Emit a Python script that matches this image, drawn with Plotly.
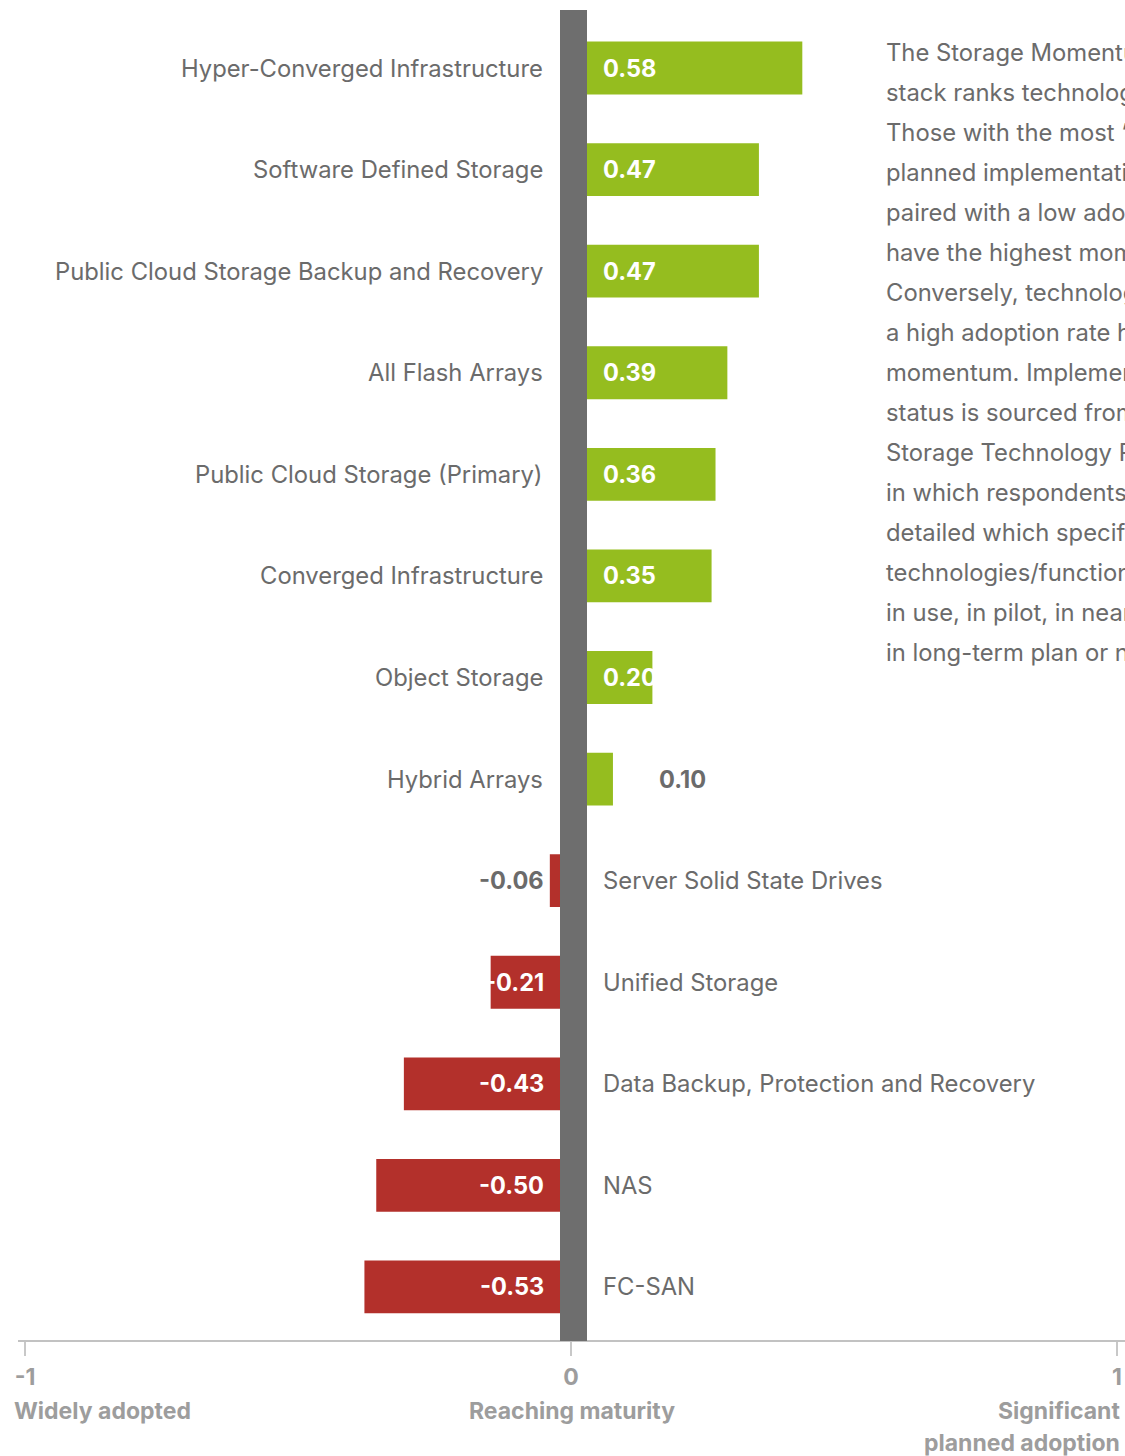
import plotly.graph_objects as go

categories = [
    "Hyper-Converged Infrastructure",
    "Software Defined Storage",
    "Public Cloud Storage Backup and Recovery",
    "All Flash Arrays",
    "Public Cloud Storage (Primary)",
    "Converged Infrastructure",
    "Object Storage",
    "Hybrid Arrays",
    "Server Solid State Drives",
    "Unified Storage",
    "Data Backup, Protection and Recovery",
    "NAS",
    "FC-SAN",
]
values = [0.58, 0.47, 0.47, 0.39, 0.36, 0.35, 0.20, 0.10, -0.06, -0.21, -0.43, -0.50, -0.53]

axis_ticks = [-1, 0, 1]
axis_ticktext = ["-1", "0", "1"]
axis_descriptors = [["Widely adopted"], ["Reaching maturity"], ["Significant", "planned adoption"]]

note_lines = [
    "The Storage Momentum Index",
    "stack ranks technologies by momentum.",
    "Those with the most \u2018in plan\u2019",
    "planned implementations",
    "paired with a low adoption rate",
    "have the highest momentum.",
    "Conversely, technologies with",
    "a high adoption rate have low",
    "momentum. Implementation",
    "status is sourced from the",
    "Storage Technology Profile,",
    "in which respondents",
    "detailed which specific",
    "technologies/functions are",
    "in use, in pilot, in near-term plan,",
    "in long-term plan or not in plan.",
]

GREEN = "#95BD1F"
RED = "#B3302B"
BAND = "#6E6E6E"
TXT = "#6B6B6B"
AXTXT = "#9D9D9D"
FONT = "Inter, Liberation Sans, Arial, sans-serif"
FS = 23.8
FSB = 23.6
FSA = 23

W, H = 1125, 1456
top, bottom = 10, 115
zero_px = 573.5
scale = 394.5
r0 = -zero_px / scale
r1 = (W - zero_px) / scale

n = len(categories)
row_px = 101.58
first_center = 68 - top
plot_h = H - top - bottom
y_top = -first_center / row_px
y_bot = y_top + plot_h / row_px

fig = go.Figure()
fig.add_trace(go.Bar(
    x=values, y=categories, orientation="h",
    marker=dict(color=[GREEN if v >= 0 else RED for v in values], line=dict(width=0)),
    width=0.52, hoverinfo="skip", showlegend=False,
))
# empty trace so the bottom reference axis is rendered
fig.add_trace(go.Scatter(x=[None], y=[None], xaxis="x2", yaxis="y", showlegend=False, hoverinfo="skip"))

annotations = []
for cat, v in zip(categories, values):
    lab = f"{v:.2f}"
    if v >= 0:
        annotations.append(dict(x=0, y=cat, xref="x", yref="y", text=cat, showarrow=False,
                                xanchor="right", xshift=545 - zero_px,
                                font=dict(family=FONT, size=FS, color=TXT)))
        if v >= 0.15:
            annotations.append(dict(x=0, y=cat, xref="x", yref="y", text=f"<b>{lab}</b>", showarrow=False,
                                    xanchor="left", xshift=601 - zero_px,
                                    font=dict(family=FONT, size=FSB, color="white")))
        else:
            annotations.append(dict(x=v, y=cat, xref="x", yref="y", text=f"<b>{lab}</b>", showarrow=False,
                                    xanchor="left", xshift=44,
                                    font=dict(family=FONT, size=FSB, color=TXT)))
    else:
        annotations.append(dict(x=0, y=cat, xref="x", yref="y", text=cat, showarrow=False,
                                xanchor="left", xshift=601 - zero_px,
                                font=dict(family=FONT, size=FS, color=TXT)))
        inside = v <= -0.15
        annotations.append(dict(x=0, y=cat, xref="x", yref="y", text=f"<b>{lab}</b>", showarrow=False,
                                xanchor="right", xshift=546 - zero_px,
                                font=dict(family=FONT, size=FSB, color="white" if inside else TXT)))

# bottom descriptors
desc_pos = [(12, "left"), (572, "center"), (1122, "right")]
for lines, (px, anc) in zip(axis_descriptors, desc_pos):
    for j, text in enumerate(lines):
        annotations.append(dict(x=px / W, y=0, xref="paper", yref="paper", text=f"<b>{text}</b>",
                                showarrow=False, xanchor=anc, yanchor="middle",
                                yshift=-(1411 + 32 * j - (H - bottom)),
                                font=dict(family=FONT, size=FSA, color=AXTXT)))

# right-side note
for i, line in enumerate(note_lines):
    cy = 52 + 40.05 * i
    annotations.append(dict(x=884 / W, y=1, xref="paper", yref="paper", text=line, showarrow=False,
                            xanchor="left", yanchor="middle", yshift=-(cy - top),
                            font=dict(family=FONT, size=FS, color=TXT)))

shapes = [
    dict(type="line", xref="paper", yref="paper", x0=18 / W, x1=1.0, y0=0, y1=0,
         line=dict(color="#C2C2C2", width=2), layer="above"),
    dict(type="rect", xref="paper", yref="paper", x0=560 / W, x1=587 / W, y0=0, y1=1,
         fillcolor=BAND, line=dict(width=0), layer="above"),
]

fig.update_layout(
    width=W, height=H, autosize=False,
    margin=dict(l=0, r=0, t=top, b=bottom, pad=0, autoexpand=False),
    paper_bgcolor="white", plot_bgcolor="rgba(0,0,0,0)",
    showlegend=False,
    xaxis=dict(range=[r0, r1], domain=[0, 1], visible=False, fixedrange=True, automargin=False),
    xaxis2=dict(range=[-1, 1], domain=[25 / W, 1117 / W], anchor="free", position=0,
                tickmode="array", tickvals=axis_ticks, ticktext=axis_ticktext,
                ticks="outside", ticklen=14, tickwidth=2, tickcolor="#C8C8C8",
                showline=False, showgrid=False, zeroline=False, automargin=False,
                tickfont=dict(family=FONT, size=FSA, color=AXTXT, weight="bold"),
                ticklabelstandoff=1, fixedrange=True),
    yaxis=dict(type="category", categoryarray=categories, range=[y_bot, y_top],
               visible=False, fixedrange=True, automargin=False),
    annotations=annotations,
    shapes=shapes,
    font=dict(family=FONT, color=TXT),
)

fig.write_html("out.html", config=dict(displayModeBar=False))
